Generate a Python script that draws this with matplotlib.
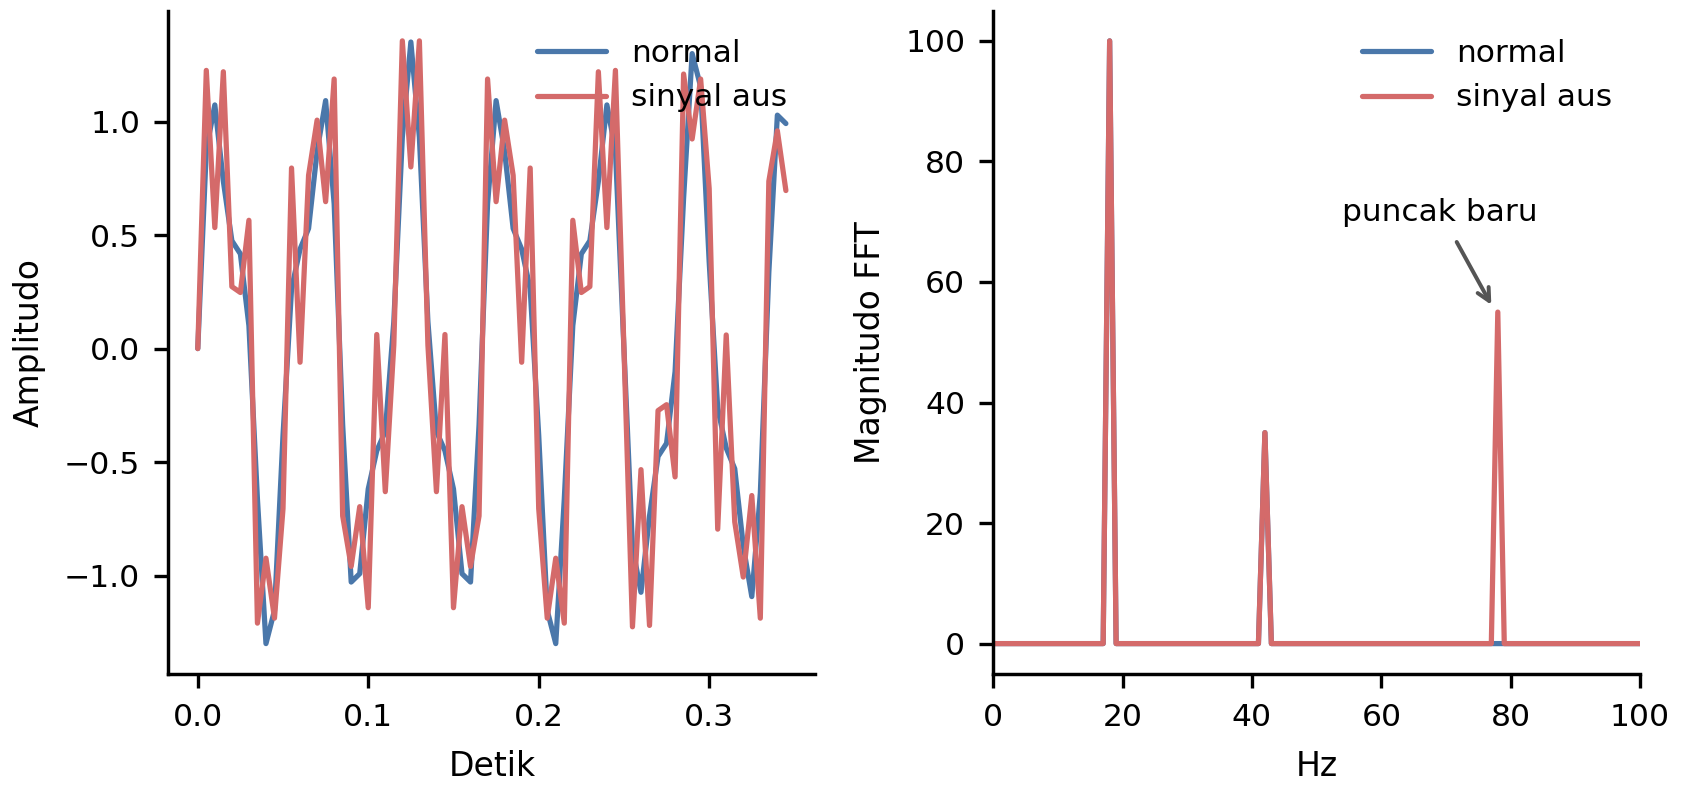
import numpy as np
import matplotlib
matplotlib.use("Agg")
import matplotlib.pyplot as plt
import seaborn as sns

# sinyal waktu, fs = 200 Hz (70 sampel pertama)
fs = 200
normal = [0.000, 0.875, 1.073, 0.737, 0.475, 0.417, 0.101, -0.663, -1.299, -1.153,
          -0.382, 0.263, 0.438, 0.529, 0.869, 1.092, 0.638, -0.336, -1.028, -0.991,
          -0.618, -0.450, -0.365, 0.119, 0.931, 1.350, 0.931, 0.119, -0.365, -0.450,
          -0.618, -0.991, -1.028, -0.336, 0.638, 1.092, 0.869, 0.529, 0.438, 0.263,
          -0.382, -1.153, -1.299, -0.663, 0.101, 0.417, 0.475, 0.737, 1.073, 0.875,
          0.000, -0.875, -1.073, -0.737, -0.475, -0.417, -0.101, 0.663, 1.299, 1.153,
          0.382, -0.263, -0.438, -0.529, -0.869, -1.092, -0.638, 0.336, 1.028, 0.991]
aus = [0.000, 1.225, 0.533, 1.219, 0.273, 0.247, 0.565, -1.209, -0.923, -1.187,
       -0.705, 0.795, -0.060, 0.763, 1.006, 0.647, 1.187, -0.737, -0.959, -0.696,
       -1.141, 0.062, -0.630, 0.016, 1.355, 0.800, 1.355, 0.016, -0.630, 0.062,
       -1.141, -0.696, -0.959, -0.737, 1.187, 0.647, 1.006, 0.763, -0.060, 0.795,
       -0.705, -1.187, -0.923, -1.209, 0.565, 0.247, 0.273, 1.219, 0.533, 1.225,
       0.000, -1.225, -0.533, -1.219, -0.273, -0.247, -0.565, 1.209, 0.923, 1.187,
       0.705, -0.795, 0.060, -0.763, -1.006, -0.647, -1.187, 0.737, 0.959, 0.696]

# spektrum: puncak (Hz) dan magnitudo
peak_hz = [18, 42, 78]
normal_peaks = [100, 35, 0]
aus_peaks = [100, 35, 55]
max_hz = 100

t = np.arange(len(normal)) / fs
freqs = np.arange(max_hz + 1)
mag_normal = np.zeros(len(freqs))
mag_aus = np.zeros(len(freqs))
mag_normal[peak_hz] = normal_peaks
mag_aus[peak_hz] = aus_peaks

sns.set_theme(context="talk", style="ticks")
plt.rcParams['font.family'] = ['DejaVu Sans']
for k in ["text.color", "axes.labelcolor", "xtick.color", "ytick.color", "axes.edgecolor"]:
    plt.rcParams[k] = "black"
plt.rcParams.update({
    "xtick.labelsize": 17.4, "ytick.labelsize": 17.4,
    "axes.labelsize": 18.3, "legend.fontsize": 17.3,
    "xtick.major.size": 7.5, "ytick.major.size": 7.5,
    "xtick.major.width": 1.85, "ytick.major.width": 1.85,
    "xtick.major.pad": 8.5, "ytick.major.pad": 8.0,
    "axes.labelpad": 10, "axes.linewidth": 1.9,
    "legend.handlelength": 2.2,
})

blue = "#4a77aa"
red = "#d46a6a"
lw = 2.9

fig, (ax1, ax2) = plt.subplots(1, 2, figsize=(1682 / 130, 796 / 130), dpi=130)
fig.subplots_adjust(left=0.1001, right=0.9751, bottom=0.1536, top=0.9865, wspace=0.275)

ax1.plot(t, normal, color=blue, lw=lw, label="normal")
ax1.plot(t, aus, color=red, lw=lw, label="sinyal aus")
ax1.set_xlabel("Detik")
ax1.set_ylabel("Amplitudo")
ax1.set_xticks([0.0, 0.1, 0.2, 0.3])
ax1.set_yticks([-1.0, -0.5, 0.0, 0.5, 1.0])
ax1.legend(loc="upper right", frameon=False)

ax2.plot(freqs, mag_normal, color=blue, lw=lw, label="normal")
ax2.plot(freqs, mag_aus, color=red, lw=lw, label="sinyal aus")
ax2.set_xlim(0, 100)
ax2.set_xlabel("Hz")
ax2.set_ylabel("Magnitudo FFT")
ax2.legend(loc="upper right", frameon=False)
ax2.annotate("puncak baru", xy=(77, 56.2), xytext=(69.1, 71.6),
             ha="center", va="center", fontsize=17.3,
             arrowprops=dict(arrowstyle="->", color="#555555", lw=2.2,
                             shrinkA=7, shrinkB=0))

sns.despine(fig)
fig.savefig("out.png", dpi=130)
